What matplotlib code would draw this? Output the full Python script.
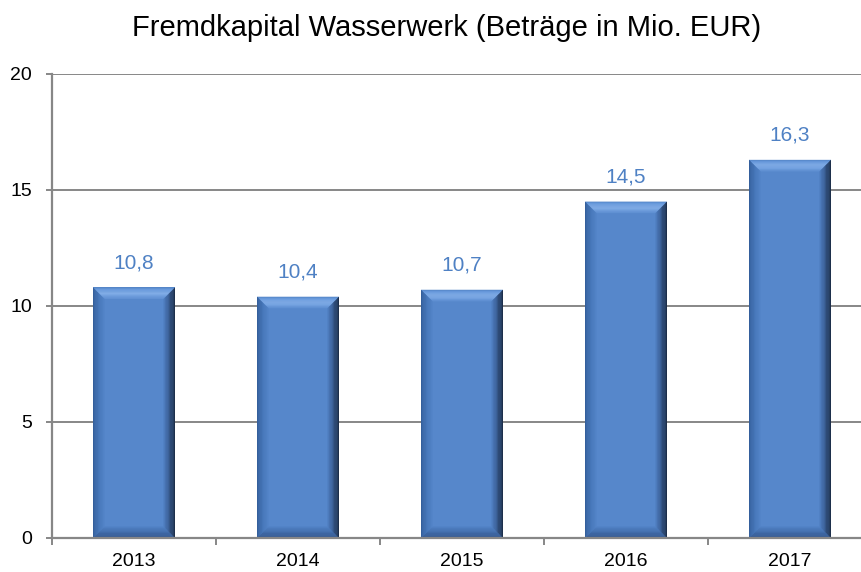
import matplotlib
matplotlib.use("Agg")
import matplotlib.pyplot as plt
import numpy as np
from matplotlib.patches import Polygon
from matplotlib.colors import to_rgb

plt.rcParams['font.family'] = ['Liberation Sans', 'DejaVu Sans']

years = ["2013", "2014", "2015", "2016", "2017"]
values = [10.8, 10.4, 10.7, 14.5, 16.3]
labels = ["10,8", "10,4", "10,7", "14,5", "16,3"]
title = "Fremdkapital Wasserwerk (Beträge in Mio. EUR)"

W, H = 861, 572
fig = plt.figure(figsize=(W / 100, H / 100), dpi=100)
ax_l, ax_r, ax_t, ax_b = 52, 872, 74, 538
ax = fig.add_axes([ax_l / W, (H - ax_b) / H, (ax_r - ax_l) / W, (ax_b - ax_t) / H])

x = np.arange(len(years))
ax.set_xlim(-0.5, len(years) - 0.5)
ax.set_ylim(0, 20)

grid_c = "#878787"
ax.set_yticks([0, 5, 10, 15, 20])
ax.yaxis.grid(True, color=grid_c, lw=1.4, zorder=0)
ax.set_axisbelow(True)

main = "#5687cb"
width = 0.5
bars = ax.bar(x, values, width=width, color=main, zorder=2, linewidth=0)

# bevel sizes in data units
px_x = (ax_r - ax_l) / len(years)
px_y = (ax_b - ax_t) / 20.0
bev = 11.5
bx = bev / px_x
by = bev / px_y

def mix(c1, c2, t):
    a = np.array(to_rgb(c1)); b = np.array(to_rgb(c2))
    return tuple(a + (b - a) * t)

def ramp(stops, t):
    for i in range(len(stops) - 1):
        p0, c0 = stops[i]; p1, c1 = stops[i + 1]
        if p0 <= t <= p1:
            return mix(c0, c1, (t - p0) / (p1 - p0) if p1 > p0 else 0)
    return to_rgb(stops[-1][1])

top_stops = [(0, "#4f7fc0"), (0.15, "#6a9cdf"), (0.5, "#8bb5ec"), (0.75, "#78a6e4"), (1.0, "#5f90d3")]
left_stops = [(0, "#2d5690"), (0.5, "#4373b5"), (1.0, "#5384c8")]
right_stops = [(0, "#121c2e"), (0.3, "#22385a"), (0.65, "#3a5f96"), (1.0, "#5080c2")]
bot_stops = [(0, "#2a4a7c"), (0.5, "#3d67a4"), (1.0, "#5182c6")]

n = 14
for xi, v in zip(x, values):
    x0, x1 = xi - width / 2, xi + width / 2
    y0, y1 = 0.0, v
    for k in range(n):
        t1 = k / n
        t2 = (k + 1) / n
        tm = (t1 + t2) / 2
        ax.add_patch(Polygon([(x0 + bx * t1, y1 - by * t1), (x1 - bx * t1, y1 - by * t1),
                              (x1 - bx * t2, y1 - by * t2), (x0 + bx * t2, y1 - by * t2)],
                             closed=True, color=ramp(top_stops, tm), lw=0, zorder=3))
        ax.add_patch(Polygon([(x0 + bx * t1, y0 + by * t1), (x1 - bx * t1, y0 + by * t1),
                              (x1 - bx * t2, y0 + by * t2), (x0 + bx * t2, y0 + by * t2)],
                             closed=True, color=ramp(bot_stops, tm), lw=0, zorder=3))
        ax.add_patch(Polygon([(x0 + bx * t1, y0 + by * t1), (x0 + bx * t1, y1 - by * t1),
                              (x0 + bx * t2, y1 - by * t2), (x0 + bx * t2, y0 + by * t2)],
                             closed=True, color=ramp(left_stops, tm), lw=0, zorder=3))
        ax.add_patch(Polygon([(x1 - bx * t1, y0 + by * t1), (x1 - bx * t1, y1 - by * t1),
                              (x1 - bx * t2, y1 - by * t2), (x1 - bx * t2, y0 + by * t2)],
                             closed=True, color=ramp(right_stops, tm), lw=0, zorder=3))

for xi, v, lab in zip(x, values, labels):
    ax.annotate(lab, (xi, v), xytext=(0, 13.7), textcoords="offset points",
                ha="center", va="baseline", fontsize=15, color="#4f81c4", zorder=5)

ax.set_xticks(x)
ax.set_xticklabels(years)
ax.set_xticks(np.arange(-0.5, len(years), 1.0), minor=True)
ax.tick_params(axis="x", which="major", length=0, pad=11, labelsize=14, colors="black")
ax.tick_params(axis="x", which="minor", length=5, width=1.4, color=grid_c, direction="out")
ax.tick_params(axis="y", length=4.5, width=1.4, color=grid_c, pad=10, labelsize=14, labelcolor="black")

for s in ["top", "right"]:
    ax.spines[s].set_visible(False)
for s in ["left", "bottom"]:
    ax.spines[s].set_color(grid_c)
    ax.spines[s].set_linewidth(1.6)
    ax.spines[s].set_zorder(4)

fig.text(447 / W, 1 - 36 / H, title, ha="center", va="baseline", fontsize=21, color="black")

fig.savefig("out.png", dpi=100)
